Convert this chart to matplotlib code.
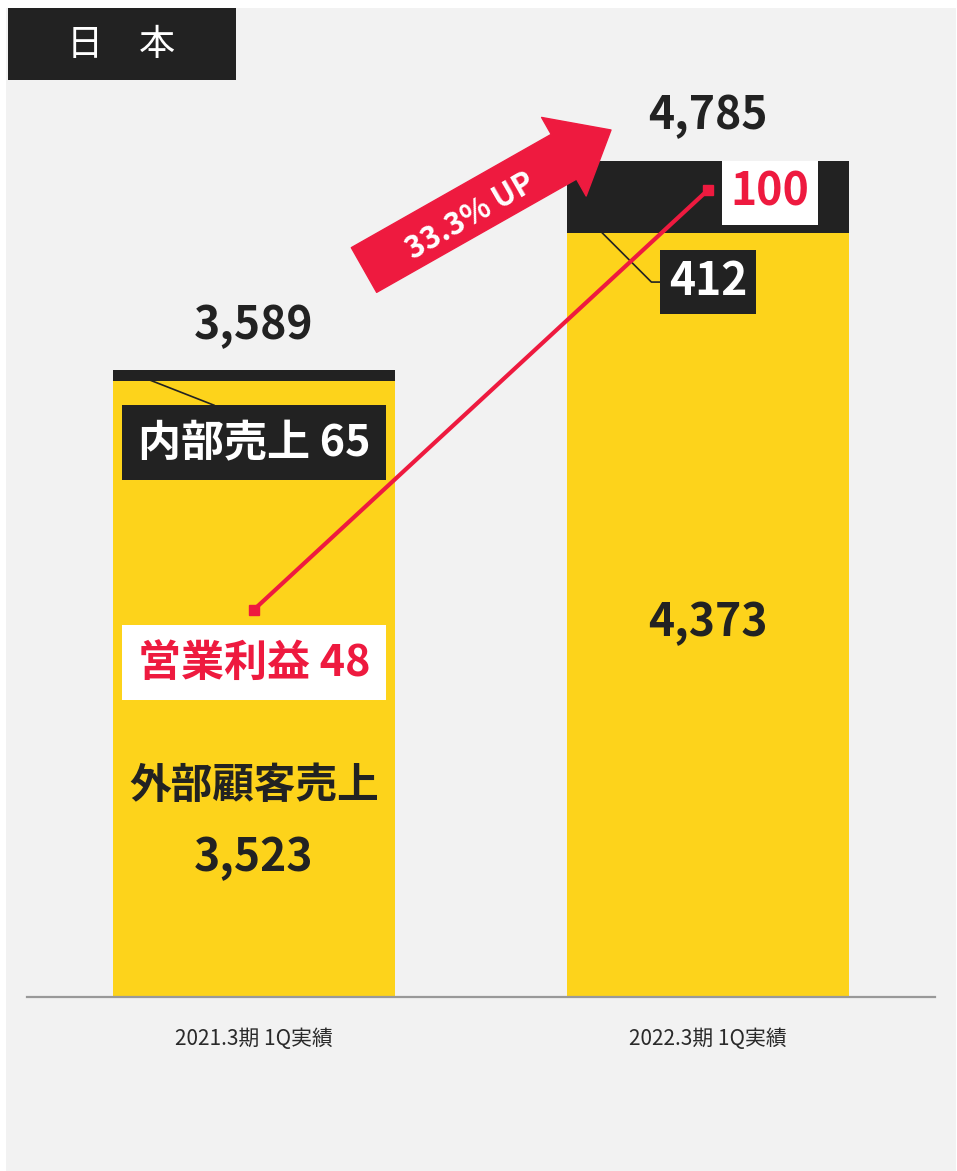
import matplotlib.pyplot as plt
from matplotlib.patches import Rectangle, FancyArrowPatch

plt.rcParams['font.family'] = ['Noto Sans CJK JP', 'DejaVu Sans']

# データ
periods = ['2021.3期 1Q実績', '2022.3期 1Q実績']
external_sales = [3523, 4373]
internal_sales = [65, 412]
totals = [3589, 4785]
op_profit = [48, 100]

yellow = '#FDD31B'
black = '#222222'
red = '#EE1A3F'
gray_bg = '#F2F2F2'

W, H = 957, 1171
fig = plt.figure(figsize=(W / 100, H / 100), dpi=100, facecolor='white')
fig.patches.append(Rectangle((6 / W, 0), 950 / W, (H - 8) / H, transform=fig.transFigure,
                             facecolor=gray_bg, edgecolor='none', zorder=-10))

ax = fig.add_axes([27 / W, (H - 997) / H, (935 - 27) / W, (997 - 80) / H])
ax.set_facecolor('none')
x = [0, 1]
bw = 0.622
ymax = 5246
ax.bar(x, external_sales, width=bw, color=yellow, zorder=2)
ax.bar(x, internal_sales, width=bw, bottom=external_sales, color=black, zorder=2)
ax.set_xlim(-0.5, 1.5)
ax.set_ylim(0, ymax)
ax.set_yticks([])
ax.set_xticks(x)
ax.set_xticklabels(periods, fontsize=15, color='#2a2a2a')
ax.tick_params(axis='x', length=0, pad=22)
for s in ['left', 'right', 'top']:
    ax.spines[s].set_visible(False)
ax.spines['bottom'].set_color('#999999')
ax.spines['bottom'].set_linewidth(1.6)

# 合計
for xi, t in zip(x, totals):
    ax.annotate(f'{t:,}', (xi, t), xytext=(0, 44), textcoords='offset pixels',
                ha='center', va='center', fontsize=32, fontweight='bold', color=black)

# 外部顧客売上
ax.text(0, external_sales[0] * 0.343, '外部顧客売上', ha='center', va='center',
        fontsize=30, fontweight='bold', color=black, zorder=3)
ax.text(0, external_sales[0] * 0.226, f'{external_sales[0]:,}', ha='center', va='center',
        fontsize=32, fontweight='bold', color=black, zorder=3)
ax.text(1, external_sales[1] * 0.489, f'{external_sales[1]:,}', ha='center', va='center',
        fontsize=32, fontweight='bold', color=black, zorder=3)

# 内部売上
ax.annotate(f'内部売上 {internal_sales[0]}', (-0.255, external_sales[0] + internal_sales[0] / 2),
            xytext=(0, 3170), textcoords='data', ha='center', va='center',
            fontsize=31, fontweight='bold', color='white', zorder=4,
            bbox=dict(boxstyle='square,pad=0.36', facecolor=black, edgecolor='none'),
            arrowprops=dict(arrowstyle='-', color=black, lw=1.2, relpos=(0.5, 1.0),
                            shrinkA=0, shrinkB=0))
# 412
ax.annotate(f'{internal_sales[1]}', (0.695, external_sales[1] + internal_sales[1] * 0.45),
            xytext=(1, 4090), textcoords='data', ha='center', va='center',
            fontsize=32, fontweight='bold', color='white', zorder=4,
            bbox=dict(boxstyle='square,pad=0.2', facecolor=black, edgecolor='none'),
            arrowprops=dict(arrowstyle='-', color=black, lw=1.2, relpos=(0.0, 0.5),
                            connectionstyle='angle,angleA=0,angleB=-45,rad=0',
                            shrinkA=0, shrinkB=0))

# 営業利益
ax2 = ax.twinx()
ax2.set_ylim(0, ymax / 46.17)
ax2.axis('off')
ax2.plot(x, op_profit, color=red, lw=3, marker='s', markersize=7, zorder=5)
ax2.annotate(f'営業利益 {op_profit[0]}', (x[0], op_profit[0]), xytext=(0, -53),
             textcoords='offset pixels', ha='center', va='center', fontsize=31,
             fontweight='bold', color=red,
             bbox=dict(boxstyle='square,pad=0.36', facecolor='white', edgecolor='none'))
ax2.annotate(f'{op_profit[1]}', (x[1], op_profit[1]), xytext=(62, -3),
             textcoords='offset pixels', ha='center', va='center', fontsize=32,
             fontweight='bold', color=red,
             bbox=dict(boxstyle='square,pad=0.2', facecolor='white', edgecolor='none'))

# 伸び率の矢印
growth = (totals[1] - totals[0]) / totals[0] * 100
to_fig = fig.transFigure
arrow = FancyArrowPatch((364 / W, 1 - 270 / H), (611 / W, 1 - 130 / H), transform=to_fig,
                        arrowstyle='simple,head_length=39,head_width=65,tail_width=37',
                        mutation_scale=1, color=red, shrinkA=0, shrinkB=0, zorder=6)
fig.patches.append(arrow)
fig.text(471 / W, 1 - 216 / H, f'{growth:.1f}% UP', rotation=30, ha='center', va='center',
         rotation_mode='anchor', fontsize=22, fontweight='bold', color='white', zorder=7)

# タイトル
fig.patches.append(Rectangle((8 / W, 1 - 80 / H), 228 / W, 72 / H, transform=to_fig,
                             facecolor=black, edgecolor='none', zorder=5))
fig.text(85 / W, 1 - 45 / H, '日', ha='center', va='center', fontsize=26, color='white', zorder=6)
fig.text(157 / W, 1 - 45 / H, '本', ha='center', va='center', fontsize=26, color='white', zorder=6)

fig.savefig('out.png', dpi=100, facecolor=fig.get_facecolor())
